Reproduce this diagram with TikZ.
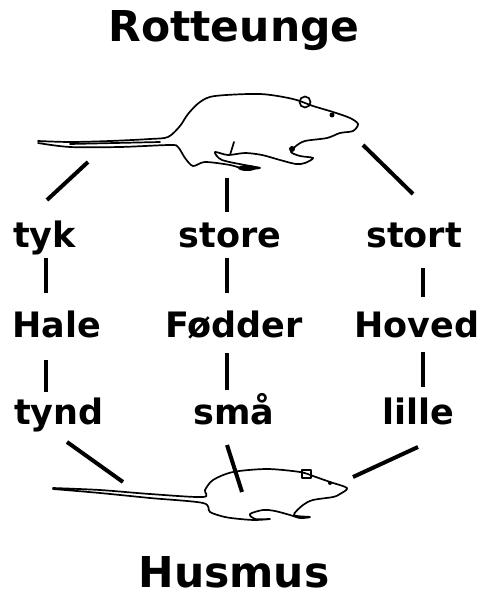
\documentclass[tikz,border=0pt]{standalone}
\usepackage{fontspec}
\setmainfont{DejaVu Sans}
\usepackage{tikz}

\tikzset{
  lbl/.style = {inner sep=0pt, text height=24pt, text depth=7pt, font=\fontsize{35}{35}\selectfont\bfseries},
  title/.style = {inner sep=0pt, font=\fontsize{42.5}{42.5}\selectfont\bfseries},
  bar/.style = {line width=4.5pt},
  animal/.style = {line width=1.7pt, line join=round, line cap=round}
}

\begin{document}
\begin{tikzpicture}[x=1pt, y=-1pt]
                \useasboundingbox (0,0) rectangle (486,591);
                \node[title, anchor=base] at (234,42) (R) {Rotteunge};
                \node[title, anchor=base] at (234,587) (H) {Husmus};

                \node[lbl, anchor=base west] at (13,247) (tyk) {tyk};
                \node[lbl, anchor=base] at (230,247) (store) {store};
                \node[lbl, anchor=base] at (414,247) (stort) {stort};
                \node[lbl, anchor=base west] at (12,337) (hale) {Hale};
                \node[lbl, anchor=base] at (234,337) (fodder) {Fødder};
                \node[lbl, anchor=base] at (417,337) (hoved) {Hoved};
                \node[lbl, anchor=base west] at (14,424) (tynd) {tynd};
                \node[lbl, anchor=base] at (234,424) (sma) {små};
                \node[lbl, anchor=base] at (418,424) (lille) {lille};

                % columns of the bars
                \coordinate (c1) at (46,0);
                \coordinate (c2) at (227,0);
                \coordinate (c3) at (423,0);

                \draw[bar, shorten <=4pt, shorten >=20pt] (c1 |- tyk.south) -- (c1 |- hale.north);
                \draw[bar, shorten <=4pt, shorten >=20pt] (c2 |- store.south) -- (c2 |- fodder.north);
                \draw[bar, shorten <=14pt, shorten >=16pt] (c3 |- stort.south) -- (c3 |- hoved.north);
                \draw[bar, shorten <=16pt, shorten >=8pt] (c1 |- hale.south) -- (c1 |- tynd.north);
                \draw[bar, shorten <=9pt, shorten >=10pt] (c2 |- fodder.south) -- (c2 |- sma.north);
                \draw[bar, shorten <=8pt, shorten >=13pt] (c3 |- hoved.south) -- (c3 |- lille.north);

                % rat
                \draw[animal] plot[smooth, tension=0.5] coordinates {
                  (38,141) (70,142) (110,141) (150,139) (168,137)
                  (180,126) (188,114) (200,102) (215,96) (260,94) (293,99)
                  (313,106) (333,112) (350,118) (358,124) (353,131) (340,133) (327,138) (305,141)
                  (296,146) (291,152) (300,156) (313,158) (305,163) (296,164)
                  (280,160) (262,155) (245,153) (228,155) (215,152) (222,160) (250,166)
                  (260,168) (245,169) (230,165) (205,162) (193,166) (185,158) (178,147)
                  (170,145) (120,147) (70,147) (38,143)};
                \draw[animal] (70,144) -- (160,142);
                \draw[animal] (230,155) -- (234,142);
                \draw[animal] (305,102) circle (5.5);
                \fill (332,115) circle (2.5);
                \fill (247,168) ellipse (9 and 3);
                \fill (292,149) circle (3);

                % mouse
                \draw[animal] plot[smooth, tension=0.5] coordinates {
                  (53,488) (100,490) (150,494) (203,497)
                  (205,490) (213,480) (233,472) (267,469) (300,472)
                  (313,476) (330,482) (347,488) (340,494) (333,497) (313,500)
                  (303,505) (294,515) (310,517) (300,518)
                  (290,515) (275,511) (263,510)
                  (250,514) (255,519) (270,519) (255,520) (240,519)
                  (225,517) (210,512) (203,503)
                  (150,498) (100,493) (53,489)};
                \draw[animal] (302,470) rectangle (311,478);
                \fill (330,483) circle (2);

                % connectors to the animals
                \coordinate (rattail) at (88,162);
                \coordinate (ratfoot) at (227,178);
                \coordinate (ratnose) at (363,145);
                \coordinate (tykend) at (47,200);
                \coordinate (storeend) at (227,212);
                \coordinate (stortend) at (413,194);
                \draw[bar, line width=4pt] (rattail) -- (tykend);
                \draw[bar] (ratfoot) -- (storeend);
                \draw[bar, line width=4pt] (ratnose) -- (stortend);

                \coordinate (mustail) at (123,482);
                \coordinate (musbody) at (242,492);
                \coordinate (musnose) at (353,477);
                \coordinate (tyndend) at (67,442);
                \coordinate (smaend) at (227,445);
                \coordinate (lilleend) at (418,447);
                \draw[bar, line width=4pt] (tyndend) -- (mustail);
                \draw[bar, line width=4pt] (smaend) -- (musbody);
                \draw[bar, line width=4pt] (lilleend) -- (musnose);
            \end{tikzpicture}
\end{document}
